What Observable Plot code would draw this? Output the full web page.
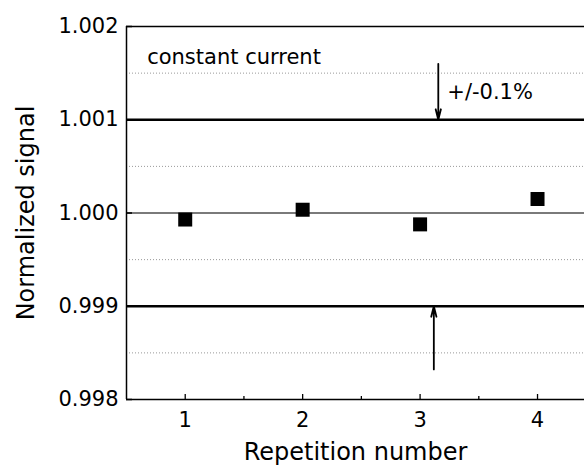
<!DOCTYPE html>
<html>
<head>
<meta charset="utf-8">
<script src="https://cdn.jsdelivr.net/npm/d3@7"></script>
<script src="https://cdn.jsdelivr.net/npm/@observablehq/plot@0.6"></script>
<style>
  html, body { margin: 0; padding: 0; background: white; overflow: hidden; }
</style>
</head>
<body>
<div id="chart"></div>
<script>
// Data
const repetitions = [1, 2, 3, 4];
const signal = [0.99993, 1.000035, 0.999878, 1.00015];

const xTicks = [1, 2, 3, 4];
const xMinorTicks = [1.5, 2.5, 3.5];
const yTicks = [0.998, 0.999, 1.000, 1.001, 1.002];
const yDotted = [0.9985, 0.9995, 1.0005, 1.0015];
const limitLines = [0.999, 1.001];
const referenceLine = [1.000];

const noteText = ["constant current", "+/-0.1%"];
const noteX = [0.676, 3.232];
const noteY = [1.001597, 1.001225];

const arrowX = [3.155, 3.117];
const arrowFrom = [1.0016, 0.998322];
const arrowTo = [1.001, 0.999];

const points = repetitions.map((r, i) => ({rep: r, value: signal[i]}));
const notes = noteText.map((t, i) => ({text: t, x: noteX[i], y: noteY[i]}));
const arrows = arrowX.map((x, i) => ({x, y1: arrowFrom[i], y2: arrowTo[i]}));

const chart = Plot.plot({
  width: 584,
  height: 466,
  marginTop: 26,
  marginBottom: 67,
  marginLeft: 126,
  marginRight: 0,
  style: {fontFamily: "DejaVu Sans", background: "white", color: "black"},
  x: {domain: [0.5, 4.4], axis: null},
  y: {domain: [0.998, 1.002], axis: null},
  marks: [
    Plot.ruleY(yDotted, {stroke: "#999", strokeWidth: 1, strokeDasharray: "1,2"}),
    Plot.ruleY(referenceLine, {stroke: "#7a7a7a", strokeWidth: 2}),
    Plot.ruleY(limitLines, {stroke: "black", strokeWidth: 2.5}),
    Plot.ruleY([0.998, 1.002], {stroke: "black", strokeWidth: 1.3}),
    Plot.ruleX([0.5], {stroke: "black", strokeWidth: 1.5}),
    Plot.axisY({ticks: yTicks, tickSize: -6, tickPadding: 14, tickFormat: d3.format(".3f"), fontSize: 21, label: null, strokeWidth: 1.5}),
    Plot.axisX({ticks: xTicks, tickSize: -5, tickPadding: 18, tickFormat: d3.format("d"), fontSize: 21, label: null, strokeWidth: 1.3}),
    Plot.axisX({ticks: xMinorTicks, tickSize: -3, tickFormat: () => "", label: null, strokeWidth: 1.3}),
    Plot.dot(points, {x: "rep", y: "value", symbol: "square", r: 7.9, fill: "black"}),
    Plot.text(notes, {x: "x", y: "y", text: "text", textAnchor: "start", lineAnchor: "bottom", fontSize: 21, fill: "black"}),
    Plot.arrow(arrows, {x1: "x", x2: "x", y1: "y1", y2: "y2", stroke: "black", strokeWidth: 1.8, headLength: 9, headAngle: 28}),
    Plot.text(["Repetition number"], {frameAnchor: "bottom", lineAnchor: "bottom", dy: 60, fontSize: 24, fill: "black"}),
    Plot.text(["Normalized signal"], {frameAnchor: "left", textAnchor: "middle", rotate: -90, lineAnchor: "bottom", dx: -93, fontSize: 24, fill: "black"})
  ]
});
document.getElementById("chart").appendChild(chart);
</script>
</body>
</html>
